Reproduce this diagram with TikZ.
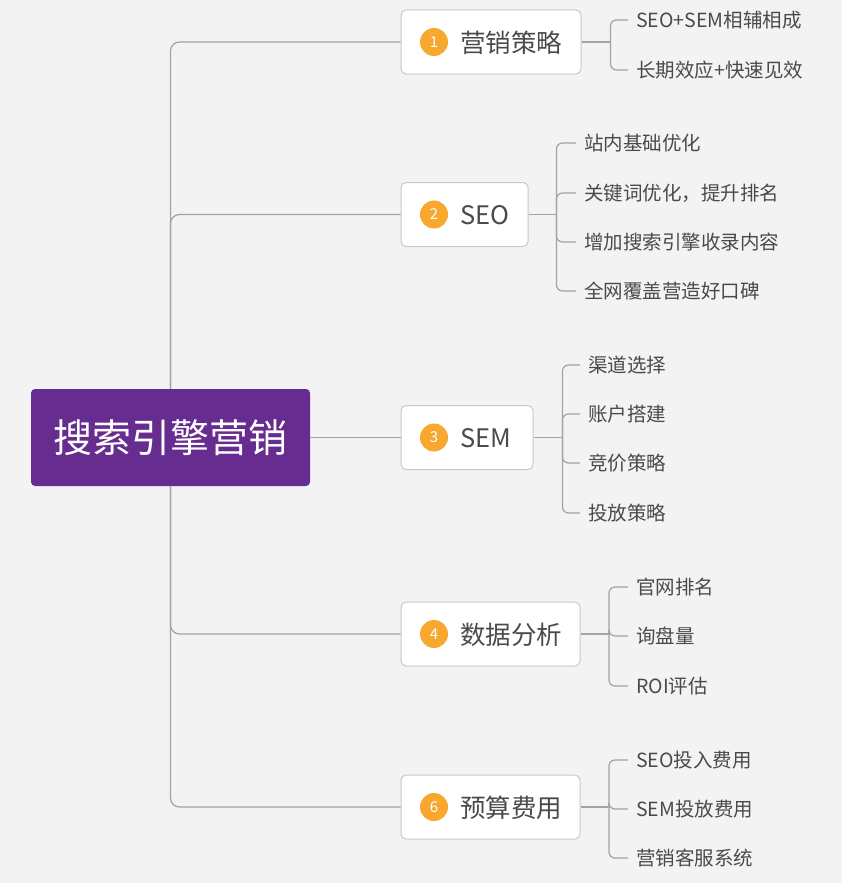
\documentclass[tikz,border=0pt]{standalone}
\usepackage{fontspec}
\setmainfont{Noto Sans CJK SC}
\definecolor{bgc}{HTML}{F3F3F3}
\definecolor{rootpurple}{HTML}{672C8F}
\definecolor{numorange}{HTML}{F8A72F}
\definecolor{boxborder}{HTML}{C8C8C8}
\definecolor{linegray}{HTML}{A3A3A3}
\definecolor{textgray}{HTML}{4A4A4A}
\begin{document}
\begin{tikzpicture}[x=1pt,y=-1pt,
 root/.style={fill=rootpurple, rounded corners=4pt, text=white, font=\fontsize{39}{44}\selectfont, minimum width=279pt, minimum height=97pt, inner sep=0},
 topic/.style={draw=boxborder, fill=white, rounded corners=5pt, line width=1pt, minimum height=64pt, inner sep=0},
 num/.style={circle, fill=numorange, text=white, minimum size=28pt, inner sep=0, font=\fontsize{15}{16}\selectfont},
 ttext/.style={anchor=west, text=textgray, font=\fontsize{25.5}{28}\selectfont, inner sep=0},
 leaf/.style={anchor=west, text=textgray, font=\fontsize{19.5}{22}\selectfont, inner xsep=8pt, inner ysep=2pt},
 trunk/.style={draw=linegray, line width=1.2pt, rounded corners=9pt},
 branch/.style={draw=linegray, line width=1.2pt, rounded corners=6pt}]
\fill[bgc] (0,0) rectangle (842,883);
\useasboundingbox (0,0) rectangle (842,883);

% root
\node[root] (root) at (170.5,437.5) {搜索引擎营销};

% topics
\node[topic, minimum width=180pt] (b1) at (491,42) {};
\node[num] (c1) at (434,42) {1};
\node[ttext] (t1) at (460,43) {营销策略};

\node[topic, minimum width=127pt] (b2) at (464.5,214.5) {};
\node[num] (c2) at (434,214.5) {2};
\node[ttext] (t2) at (460,215.5) {SEO};

\node[topic, minimum width=132pt] (b3) at (467,437.5) {};
\node[num] (c3) at (434,437.5) {3};
\node[ttext] (t3) at (460,438.5) {SEM};

\node[topic, minimum width=179pt] (b4) at (490.5,634) {};
\node[num] (c4) at (434,634) {4};
\node[ttext] (t4) at (460,635) {数据分析};

\node[topic, minimum width=179pt] (b6) at (490.5,807) {};
\node[num] (c6) at (434,807) {6};
\node[ttext] (t6) at (460,808) {预算费用};

% trunk connectors
\draw[trunk] (root.north) |- (b1.west);
\draw[trunk] (root.north) |- (b2.west);
\draw[trunk] (root.east) -- (b3.west);
\draw[trunk] (root.south) |- (b4.west);
\draw[trunk] (root.south) |- (b6.west);

% leaves 1
\node[leaf] (l11) at (628,20) {SEO+SEM相辅相成};
\node[leaf] (l12) at (628,70) {长期效应+快速见效};
\draw[branch] (b1.east) -- ++(29,0) coordinate (j1);
\foreach \l in {l11,l12} \draw[branch] (j1) |- (\l.west);

% leaves 2
\node[leaf] (l21) at (576,143) {站内基础优化};
\node[leaf] (l22) at (576,193) {关键词优化，提升排名};
\node[leaf] (l23) at (576,242) {增加搜索引擎收录内容};
\node[leaf] (l24) at (576,291) {全网覆盖营造好口碑};
\draw[branch] (b2.east) -- ++(28,0) coordinate (j2);
\foreach \l in {l21,l22,l23,l24} \draw[branch] (j2) |- (\l.west);

% leaves 3
\node[leaf] (l31) at (580,365) {渠道选择};
\node[leaf] (l32) at (580,414) {账户搭建};
\node[leaf] (l33) at (580,463) {竞价策略};
\node[leaf] (l34) at (580,513) {投放策略};
\draw[branch] (b3.east) -- ++(29,0) coordinate (j3);
\foreach \l in {l31,l32,l33,l34} \draw[branch] (j3) |- (\l.west);

% leaves 4
\node[leaf] (l41) at (628,587) {官网排名};
\node[leaf] (l42) at (628,636) {询盘量};
\node[leaf] (l43) at (628,686) {ROI评估};
\draw[branch] (b4.east) -- ++(28.5,0) coordinate (j4);
\foreach \l in {l41,l42,l43} \draw[branch] (j4) |- (\l.west);

% leaves 6
\node[leaf] (l61) at (628,760) {SEO投入费用};
\node[leaf] (l62) at (628,809) {SEM投放费用};
\node[leaf] (l63) at (628,858) {营销客服系统};
\draw[branch] (b6.east) -- ++(28.5,0) coordinate (j6);
\foreach \l in {l61,l62,l63} \draw[branch] (j6) |- (\l.west);
\end{tikzpicture}
\end{document}
